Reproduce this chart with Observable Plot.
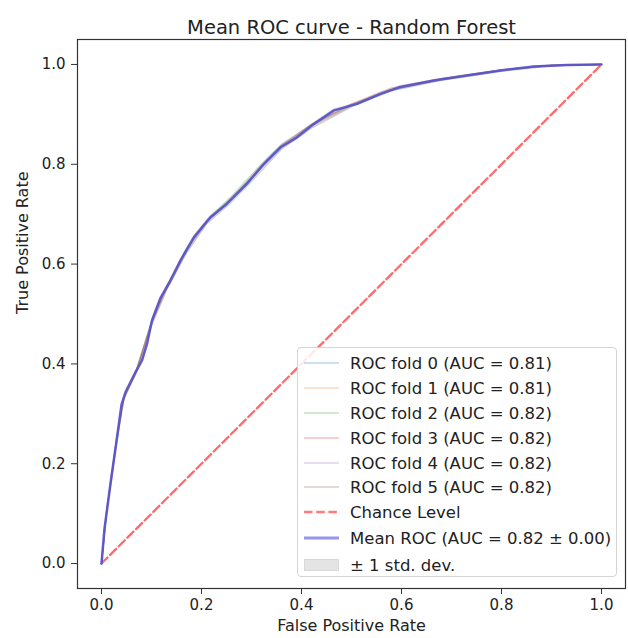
<!DOCTYPE html>
<html>
<head>
<meta charset="utf-8">
<script src="https://cdn.jsdelivr.net/npm/d3@7"></script>
<script src="https://cdn.jsdelivr.net/npm/@observablehq/plot@0.6"></script>
<style>
  html, body { margin: 0; padding: 0; background: #fff; }
  #wrap { position: relative; width: 628px; height: 638px; font-family: "DejaVu Sans", sans-serif; }
  #legend { position: absolute; left: 297px; top: 347px; width: 320px; height: 230px;
    border: 1px solid #d4d4d4; border-radius: 4px; background: rgba(255,255,255,0.85); box-sizing: border-box; }
  .row { position: absolute; left: 0; height: 24px; display: flex; align-items: center; font-size: 16.5px; color: #222; white-space: nowrap; }
  .sw { width: 35px; margin-left: 6px; margin-right: 11px; }
</style>
</head>
<body>
<div id="wrap"></div>
<script>
// ---- data ----
const title = "Mean ROC curve - Random Forest";
const xLabel = "False Positive Rate";
const yLabel = "True Positive Rate";
const xTicks = [0, 0.2, 0.4, 0.6, 0.8, 1.0];
const yTicks = [0, 0.2, 0.4, 0.6, 0.8, 1.0];

const meanFpr = [0, 0.006, 0.018, 0.030, 0.040, 0.048, 0.068, 0.081, 0.091, 0.101, 0.118, 0.138, 0.158, 0.185, 0.218, 0.251, 0.291, 0.325, 0.358, 0.391, 0.425, 0.465, 0.511, 0.558, 0.598, 0.665, 0.731, 0.798, 0.865, 0.931, 1.0];
const meanTpr = [0, 0.070, 0.160, 0.245, 0.318, 0.343, 0.383, 0.407, 0.440, 0.487, 0.532, 0.567, 0.607, 0.654, 0.694, 0.721, 0.761, 0.801, 0.834, 0.854, 0.881, 0.908, 0.921, 0.941, 0.955, 0.968, 0.978, 0.988, 0.996, 0.999, 1.0];
const stdTpr  = [0, 0.004, 0.005, 0.005, 0.004, 0.004, 0.004, 0.004, 0.004, 0.004, 0.004, 0.004, 0.004, 0.004, 0.004, 0.004, 0.005, 0.005, 0.004, 0.004, 0.003, 0.003, 0.003, 0.003, 0.003, 0.002, 0.002, 0.001, 0.001, 0.001, 0];

const foldFpr = [0, 0.01, 0.03, 0.045, 0.07, 0.1, 0.13, 0.17, 0.21, 0.26, 0.31, 0.36, 0.42, 0.5, 0.58, 0.68, 0.8, 0.9, 1.0];
const fold0 = [0, 0.098, 0.240, 0.330, 0.383, 0.478, 0.548, 0.622, 0.680, 0.724, 0.776, 0.830, 0.872, 0.915, 0.947, 0.968, 0.986, 0.997, 1];
const fold1 = [0, 0.100, 0.242, 0.328, 0.385, 0.476, 0.547, 0.624, 0.682, 0.728, 0.781, 0.832, 0.874, 0.917, 0.950, 0.969, 0.987, 0.998, 1];
const fold2 = [0, 0.105, 0.250, 0.336, 0.390, 0.486, 0.556, 0.632, 0.688, 0.736, 0.790, 0.840, 0.880, 0.920, 0.950, 0.971, 0.989, 0.998, 1];
const fold3 = [0, 0.103, 0.247, 0.334, 0.388, 0.484, 0.554, 0.630, 0.686, 0.732, 0.786, 0.838, 0.880, 0.921, 0.953, 0.972, 0.989, 0.999, 1];
const fold4 = [0, 0.102, 0.246, 0.335, 0.389, 0.483, 0.553, 0.629, 0.685, 0.731, 0.784, 0.836, 0.878, 0.919, 0.948, 0.970, 0.988, 0.998, 1];
const fold5 = [0, 0.101, 0.244, 0.332, 0.387, 0.482, 0.552, 0.628, 0.684, 0.730, 0.783, 0.834, 0.877, 0.918, 0.949, 0.971, 0.989, 0.998, 1];
const foldAuc = ["0.81", "0.81", "0.82", "0.82", "0.82", "0.82"];
const foldColors = ["#1f77b4", "#ff7f0e", "#2ca02c", "#d62728", "#9467bd", "#8c564b"];
const chanceX = [0, 1];
const chanceY = [0, 1];
const meanAuc = "0.82";
const meanStd = "0.00";

// ---- build ----
const folds = [fold0, fold1, fold2, fold3, fold4, fold5];
const meanRows = meanFpr.map((x, i) => ({x, y: meanTpr[i], lo: Math.max(0, meanTpr[i] - stdTpr[i]), hi: Math.min(1, meanTpr[i] + stdTpr[i])}));
const chanceRows = chanceX.map((x, i) => ({x, y: chanceY[i]}));

const chart = Plot.plot({
  width: 628, height: 638,
  marginLeft: 77, marginRight: 3, marginTop: 39, marginBottom: 50,
  style: {fontFamily: "DejaVu Sans", fontSize: "15px", color: "#222", background: "white"},
  x: {domain: [-0.048, 1.048]},
  y: {domain: [-0.05, 1.05]},
  marks: [
    Plot.areaY(meanRows, {x: "x", y1: "lo", y2: "hi", fill: "grey", fillOpacity: 0.2}),
    ...folds.map((f, k) => Plot.line(foldFpr.map((x, i) => ({x, y: f[i]})), {x: "x", y: "y", stroke: foldColors[k], strokeOpacity: 0.3, strokeWidth: 1.2})),
    Plot.line(chanceRows, {x: "x", y: "y", stroke: "#ff5a5a", strokeOpacity: 0.9, strokeWidth: 2.3, strokeDasharray: "8.5,3.7"}),
    Plot.line(meanRows, {x: "x", y: "y", stroke: "#5a54cc", strokeWidth: 2.5, strokeOpacity: 0.95}),
    Plot.frame({stroke: "#333", strokeWidth: 1.2}),
    Plot.axisX({ticks: xTicks, tickFormat: d3.format(".1f"), tickSize: 6, tickPadding: 5, label: null, fontSize: 15, stroke: "#333"}),
    Plot.axisY({ticks: yTicks, tickFormat: d3.format(".1f"), tickSize: 6, tickPadding: 6, label: null, fontSize: 15, stroke: "#333"}),
    Plot.text([title], {text: d => d, frameAnchor: "top", dy: -19, fontSize: 19.5, fill: "#222"}),
    Plot.text([xLabel], {text: d => d, frameAnchor: "bottom", dy: 42, fontSize: 16, fill: "#222"}),
    Plot.text([yLabel], {text: d => d, frameAnchor: "left", dx: -55, rotate: -90, fontSize: 16, fill: "#222"})
  ]
});
const wrap = document.getElementById("wrap");
wrap.appendChild(chart);

// ---- legend ----
const legend = document.createElement("div");
legend.id = "legend";
const rows = [];
folds.forEach((f, k) => rows.push({label: `ROC fold ${k} (AUC = ${foldAuc[k]})`, kind: "line", color: foldColors[k], op: 0.3, w: 1.5}));
rows.push({label: "Chance Level", kind: "dash", color: "#ff5a5a", op: 0.8, w: 2.3});
rows.push({label: `Mean ROC (AUC = ${meanAuc} \u00b1 ${meanStd})`, kind: "line", color: "#7b7bf0", op: 0.8, w: 3});
rows.push({label: "\u00b1 1 std. dev.", kind: "box"});
const tops = [3, 28, 53, 78, 103, 127, 152, 178, 205];
rows.forEach((r, i) => {
  const d = document.createElement("div");
  d.className = "row";
  d.style.top = tops[i] + "px";
  let sw;
  if (r.kind === "box") {
    sw = `<svg class="sw" width="35" height="14"><rect x="0.5" y="1.5" width="34" height="11" fill="#e4e4e4" stroke="#d8d8d8"/></svg>`;
  } else if (r.kind === "dash") {
    sw = `<svg class="sw" width="35" height="14"><line x1="0" x2="35" y1="7" y2="7" stroke="${r.color}" stroke-opacity="${r.op}" stroke-width="${r.w}" stroke-dasharray="8.5,3.7"/></svg>`;
  } else {
    sw = `<svg class="sw" width="35" height="14"><line x1="0" x2="35" y1="7" y2="7" stroke="${r.color}" stroke-opacity="${r.op}" stroke-width="${r.w}"/></svg>`;
  }
  d.innerHTML = sw + `<span>${r.label}</span>`;
  legend.appendChild(d);
});
wrap.appendChild(legend);
</script>
</body>
</html>
